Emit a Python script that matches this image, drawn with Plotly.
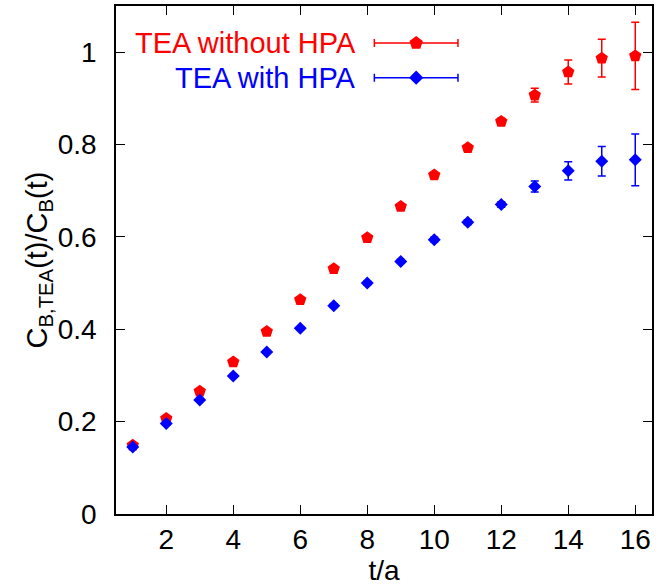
import plotly.graph_objects as go

t = list(range(1, 17))
without_hpa = [0.149, 0.207, 0.266, 0.329, 0.395, 0.464, 0.531, 0.598, 0.666, 0.734,
               0.793, 0.850, 0.907, 0.957, 0.987, 0.992]
without_err = [0.003, 0.003, 0.003, 0.003, 0.003, 0.003, 0.004, 0.004, 0.004, 0.005,
               0.006, 0.007, 0.015, 0.026, 0.041, 0.073]
with_hpa = [0.145, 0.196, 0.247, 0.299, 0.351, 0.402, 0.451, 0.500, 0.547, 0.594,
            0.632, 0.670, 0.709, 0.743, 0.764, 0.767]
with_err = [0.003, 0.003, 0.003, 0.003, 0.003, 0.003, 0.004, 0.004, 0.004, 0.005,
            0.005, 0.006, 0.012, 0.020, 0.032, 0.056]

RED = "#ff0000"
BLUE = "#0000ff"
FONT = "Liberation Sans, Arial, Helvetica, sans-serif"

fig = go.Figure()
fig.add_trace(go.Scatter(
    x=t, y=without_hpa, mode="markers", name="TEA without HPA",
    marker=dict(symbol="pentagon", size=13, color=RED, line=dict(width=0)),
    error_y=dict(type="data", array=without_err, color=RED, thickness=1.5, width=4),
    showlegend=False))
fig.add_trace(go.Scatter(
    x=t, y=with_hpa, mode="markers", name="TEA with HPA",
    marker=dict(symbol="diamond", size=10, color=BLUE, line=dict(width=0)),
    error_y=dict(type="data", array=with_err, color=BLUE, thickness=1.5, width=4),
    showlegend=False))

# legend samples on an overlay axis spanning the plot area in fractions
fig.add_trace(go.Scatter(
    x=[0.56], y=[0.927], xaxis="x2", yaxis="y2", mode="markers", showlegend=False,
    marker=dict(symbol="pentagon", size=14, color=RED),
    error_x=dict(type="data", array=[0.078], color=RED, thickness=1.5, width=4),
    hoverinfo="skip"))
fig.add_trace(go.Scatter(
    x=[0.56], y=[0.859], xaxis="x2", yaxis="y2", mode="markers", showlegend=False,
    marker=dict(symbol="diamond", size=11, color=BLUE),
    error_x=dict(type="data", array=[0.078], color=BLUE, thickness=1.5, width=4),
    hoverinfo="skip"))

fig.add_annotation(x=0.452, y=0.927, xref="x2", yref="y2", text="TEA without HPA",
                   showarrow=False, xanchor="right", yanchor="middle",
                   font=dict(family=FONT, size=29, color=RED))
fig.add_annotation(x=0.452, y=0.859, xref="x2", yref="y2", text="TEA with HPA",
                   showarrow=False, xanchor="right", yanchor="middle",
                   font=dict(family=FONT, size=29, color=BLUE))

axis_common = dict(showline=True, linecolor="black", linewidth=1.5, mirror="ticks",
                   ticks="inside", ticklen=9, tickwidth=1.2, tickcolor="black",
                   showgrid=False, zeroline=False,
                   tickfont=dict(family=FONT, size=28, color="black"))

fig.update_layout(
    width=658, height=588,
    margin=dict(l=116, r=4, t=5, b=74),
    paper_bgcolor="white", plot_bgcolor="white",
    font=dict(family=FONT, color="black"),
    xaxis=dict(range=[0.5, 16.5], tickvals=[2, 4, 6, 8, 10, 12, 14, 16],
               title=dict(text="t/a", font=dict(family=FONT, size=28), standoff=0),
               **axis_common),
    yaxis=dict(range=[0, 1.1], tickvals=[0, 0.2, 0.4, 0.6, 0.8, 1.0],
               ticktext=["0", "0.2", "0.4", "0.6", "0.8", "1"],
               ticklabelstandoff=12,
               title=dict(text="C<sub>B,TEA</sub>(t)/C<sub>B</sub>(t)",
                          font=dict(family=FONT, size=29), standoff=2),
               **axis_common),
    xaxis2=dict(range=[0, 1], overlaying="x", visible=False, fixedrange=True),
    yaxis2=dict(range=[0, 1], overlaying="y", visible=False, fixedrange=True),
)

fig.write_html("out.html")
